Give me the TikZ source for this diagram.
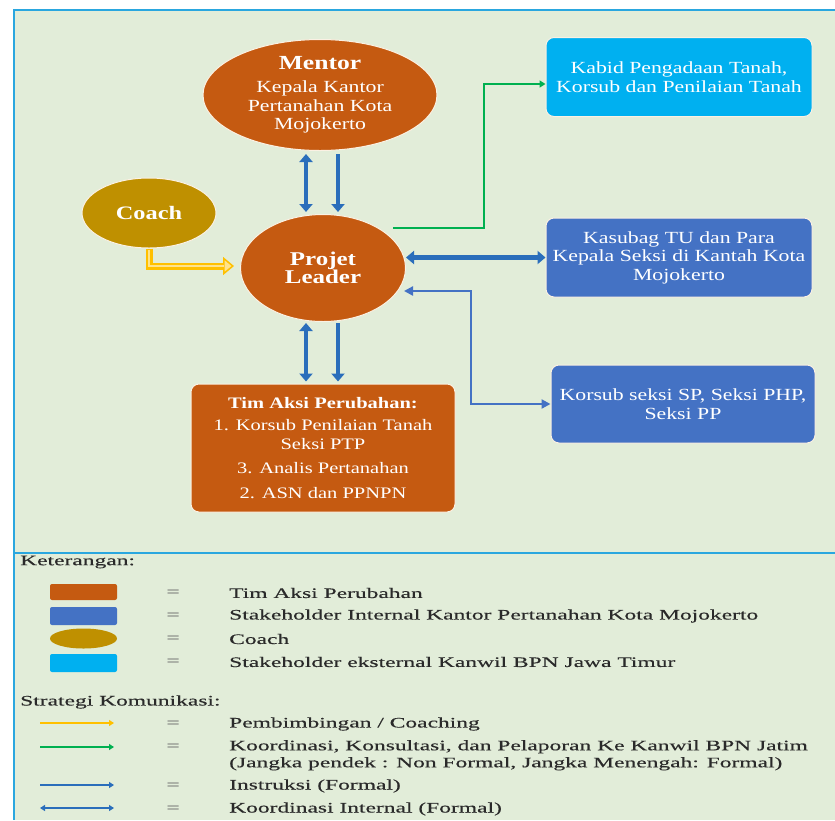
\documentclass[tikz,border=0pt]{standalone}
\usepackage{fontspec}
\setmainfont{Liberation Serif}[FakeStretch=1.28]
\newfontfamily\legfont{Liberation Serif}[FakeStretch=1.62,FakeBold=0.3]
\usetikzlibrary{shapes.geometric,arrows.meta,calc}
\definecolor{bgc}{HTML}{E2EDD9}
\definecolor{brd}{HTML}{2AA7DF}
\definecolor{orng}{HTML}{C55A11}
\definecolor{coachc}{HTML}{BF9000}
\definecolor{cyanb}{HTML}{00B0F0}
\definecolor{blueb}{HTML}{4472C4}
\definecolor{arrb}{HTML}{2A6EBB}
\definecolor{grn}{HTML}{00B050}
\definecolor{ylw}{HTML}{FFC000}
\definecolor{ylwl}{HTML}{FFE38A}
\definecolor{edgec}{HTML}{FBF1E3}
\definecolor{legtxt}{HTML}{2A2A2A}
\begin{document}
\begin{tikzpicture}[x=1pt,y=-1pt,
  ell/.style={ellipse,draw=edgec,line width=1pt,inner sep=0pt,text=white,align=center,
     font=\fontsize{17}{18.5}\selectfont},
  box/.style={rectangle,rounded corners=8pt,draw=edgec,line width=1pt,inner sep=0pt,text=white,align=center,
     font=\fontsize{17}{18.5}\selectfont},
  thk/.style={draw=arrb,line width=4.5pt,-{Triangle[length=8pt,width=13pt]}},
  thkd/.style={draw=arrb,line width=4.5pt,{Triangle[length=8pt,width=13pt]}-{Triangle[length=8pt,width=13pt]}},
  legtext/.style={anchor=west,inner sep=0pt,text=legtxt,font=\legfont\fontsize{14.5}{17}\selectfont,align=left},
  legeq/.style={anchor=center,inner sep=0pt,text=legtxt!70,font=\legfont\fontsize{14.5}{17}\selectfont},
  legarr/.style={line width=2.5pt,-{Triangle[length=5pt,width=6pt]}}
]
\useasboundingbox (0,0) rectangle (835,820);
\fill[white] (0,0) rectangle (835,820);
\fill[bgc] (14,10) rectangle (835,820);
\draw[brd,line width=2.5pt] (835,10) -- (14,10) -- (14,820);
\draw[brd,line width=2.5pt] (14,553) -- (835,553);

% nodes
\node[ell,fill=orng,minimum width=234pt,minimum height=111pt] (mentor) at (320,95)
  {{\fontsize{20}{18.5}\selectfont\bfseries Mentor}\\[5pt]Kepala Kantor\\Pertanahan Kota\\Mojokerto};
\node[ell,fill=coachc,minimum width=134pt,minimum height=70pt] (coach) at (149,213)
  {\fontsize{19}{20}\selectfont\bfseries Coach};
\node[ell,fill=orng,minimum width=165pt,minimum height=107pt] (leader) at (323,268)
  {\fontsize{19.5}{22}\selectfont\bfseries Projet\\\fontsize{19.5}{22}\selectfont\bfseries Leader};
\node[box,fill=orng,minimum width=264pt,minimum height=128pt,font=\fontsize{16}{19}\selectfont] (tim) at (323,448)
  {{\bfseries Tim Aksi Perubahan:}\\[3pt]1. Korsub Penilaian Tanah\\Seksi PTP\\[5pt]3. Analis Pertanahan\\[6pt]2. ASN dan PPNPN};
\node[box,fill=cyanb,minimum width=266pt,minimum height=79pt] (kabid) at (679,77)
  {Kabid Pengadaan Tanah,\\Korsub dan Penilaian Tanah};
\node[box,fill=blueb,minimum width=266pt,minimum height=79pt] (kasubag) at (679,257.5)
  {Kasubag TU dan Para\\Kepala Seksi di Kantah Kota\\Mojokerto};
\node[box,fill=blueb,minimum width=264pt,minimum height=78pt] (korsub) at (683,404)
  {Korsub seksi SP, Seksi PHP,\\Seksi PP};

% connectors
\coordinate (cL) at (306,0);
\coordinate (cR) at (338,0);
\draw[thkd,shorten <=3pt,shorten >=2pt] (cL |- mentor.south) -- (cL |- leader.north);
\draw[thk,shorten <=3pt,shorten >=2pt] (cR |- mentor.south) -- (cR |- leader.north);
\draw[thkd,shorten <=1pt,shorten >=2pt] (cL |- leader.south) -- (cL |- tim.north);
\draw[thk,shorten <=1pt,shorten >=2pt] (cR |- leader.south) -- (cR |- tim.north);

% coach arrow
\coordinate (cend) at ($(leader.west)+(-6,-2)$);
\draw[ylw,line width=7pt,-{Triangle[length=11pt,width=18pt,fill=ylwl,line width=1.5pt]}]
  (coach.south) |- (cend);
\draw[ylwl,line width=2.5pt,shorten >=10pt] ($(coach.south)+(0,1)$) |- (cend);

% green
\coordinate (gstart) at ($(leader.center)+(70,-40)$);
\draw[grn,line width=2.5pt,-{Triangle[length=6pt,width=7pt]}]
  (gstart) -- ++(91,0) |- ($(kabid.west)+(0,7)$);

% kasubag double
\draw[thkd] (leader.east |- kasubag.west) -- (kasubag.west);

% korsub
\coordinate (kstart) at ($(leader.center)+(81,23)$);
\draw[blueb,line width=2.5pt,{Triangle[length=9pt,width=9pt]}-{Triangle[length=9pt,width=9pt]}]
  (kstart) -- ++(67,0) |- (korsub.west);

% legend
\node[legtext] (ket) at (20,562) {Keterangan:};
\fill[orng,rounded corners=2pt] (50,584) rectangle (117,600);
\fill[blueb,rounded corners=2pt] (50,607) rectangle (117,625);
\fill[coachc] (83.5,638.5) ellipse [x radius=33.5,y radius=10];
\fill[cyanb,rounded corners=2pt] (50,654) rectangle (117,672);
\node[legeq] (e1) at (173,593) {=};
\node[legeq] (e2) at (173,616) {=};
\node[legeq] (e3) at (173,639) {=};
\node[legeq] (e4) at (173,662) {=};
\node[legtext] (t1) at (229,593) {Tim Aksi Perubahan};
\node[legtext] (t2) at (229,616) {Stakeholder Internal Kantor Pertanahan Kota Mojokerto};
\node[legtext] (t3) at (229,639) {Coach};
\node[legtext] (t4) at (229,662) {Stakeholder eksternal Kanwil BPN Jawa Timur};

\node[legtext] (strat) at (20,702) {Strategi Komunikasi:};
\coordinate (a1s) at (40,723); \coordinate (a1e) at (114,723);
\coordinate (a2s) at (40,747); \coordinate (a2e) at (114,747);
\coordinate (a3s) at (40,785); \coordinate (a3e) at (114,785);
\coordinate (a4s) at (40,808); \coordinate (a4e) at (114,808);
\draw[legarr,ylw] (a1s) -- (a1e);
\draw[legarr,grn] (a2s) -- (a2e);
\draw[legarr,arrb] (a3s) -- (a3e);
\draw[legarr,arrb,{Triangle[length=5pt,width=6pt]}-{Triangle[length=5pt,width=6pt]}] (a4s) -- (a4e);
\node[legeq] (e5) at (173,724) {=};
\node[legeq] (e6) at (173,747) {=};
\node[legeq] (e7) at (173,786) {=};
\node[legeq] (e8) at (173,809) {=};
\node[legtext] (s1) at (229,724) {Pembimbingan / Coaching};
\node[legtext,anchor=north west] (s2) at (229,740) {Koordinasi, Konsultasi, dan Pelaporan Ke Kanwil BPN Jatim\\(Jangka pendek : Non Formal, Jangka Menengah: Formal)};
\node[legtext] (s3) at (229,786) {Instruksi (Formal)};
\node[legtext] (s4) at (229,809) {Koordinasi Internal (Formal)};
\end{tikzpicture}
\end{document}
